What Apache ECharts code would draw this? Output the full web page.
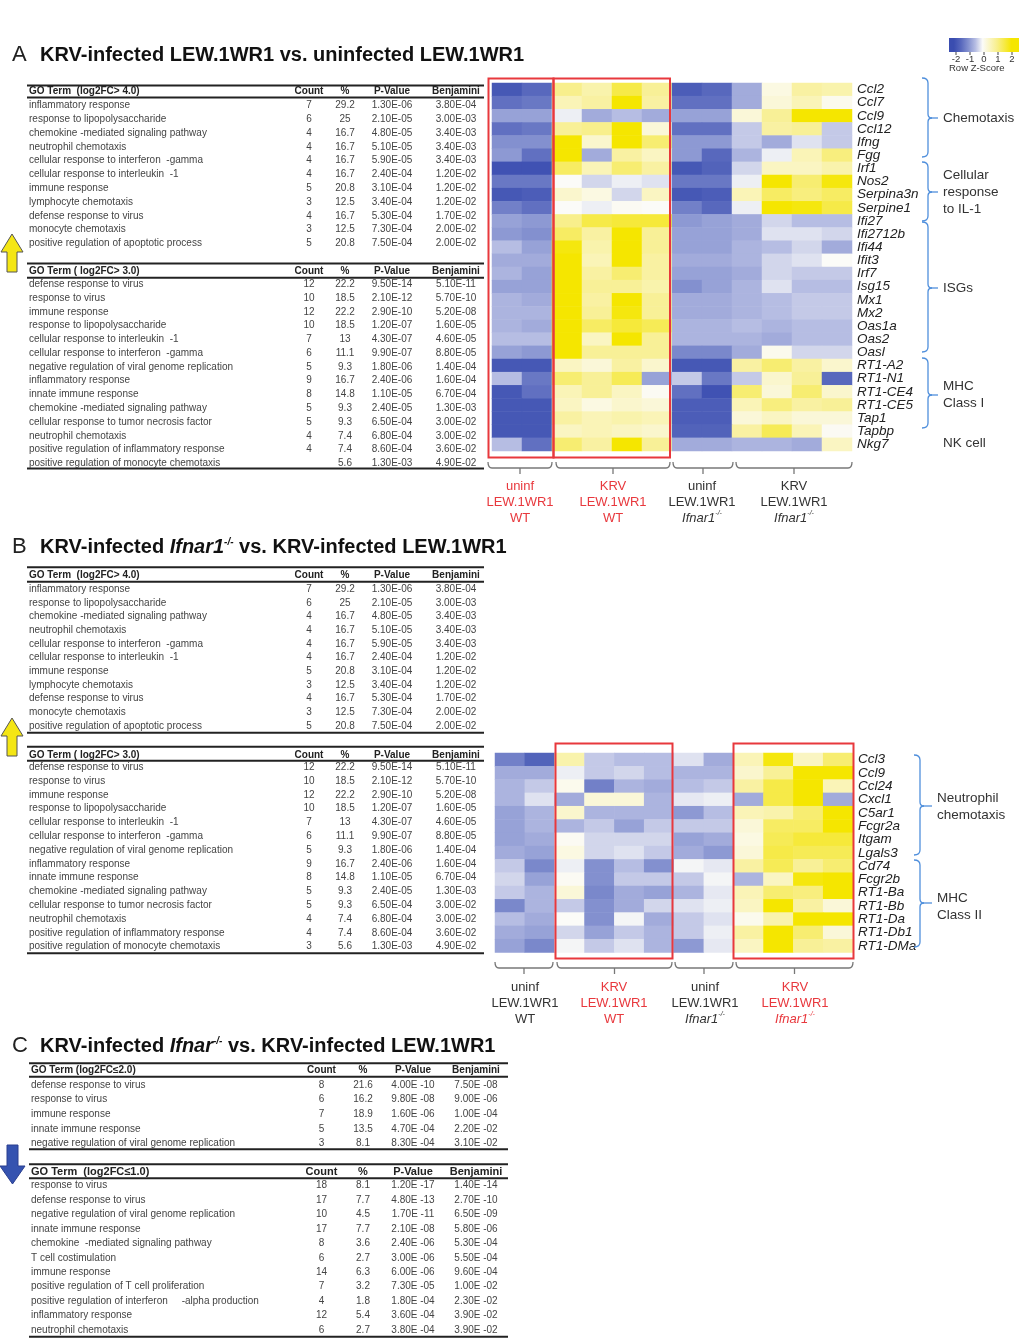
<!DOCTYPE html>
<html>
<head>
<meta charset="utf-8">
<script src="https://cdn.jsdelivr.net/npm/echarts@6/dist/echarts.min.js"></script>
<style>
  html, body { margin: 0; padding: 0; background: #ffffff; }
  #chart { width: 1019px; height: 1339px; }
</style>
</head>
<body>
<div id="chart"></div>
<script>
// ---- samples (columns of both heatmaps) ----
const sampleCols = ['WT-U1', 'WT-U2', 'WT-K1', 'WT-K2', 'WT-K3', 'WT-K4',
                    'KO-U1', 'KO-U2', 'KO-K1', 'KO-K2', 'KO-K3', 'KO-K4'];

// ---- heatmap A: row z-scores ----
const genesA = ['Ccl2', 'Ccl7', 'Ccl9', 'Ccl12', 'Ifng', 'Fgg', 'Irf1', 'Nos2', 'Serpina3n', 'Serpine1',
  'Ifi27', 'Ifi2712b', 'Ifi44', 'Ifit3', 'Irf7', 'Isg15', 'Mx1', 'Mx2', 'Oas1a', 'Oas2', 'Oasl',
  'RT1-A2', 'RT1-N1', 'RT1-CE4', 'RT1-CE5', 'Tap1', 'Tapbp', 'Nkg7'];
const zA = [
  [-1.8, -1.5, 1.0, 0.7, 1.5, 0.9, -1.7, -1.5, -0.7, 0.2, 0.8, 0.7],
  [-1.4, -1.3, 0.6, 0.8, 2.0, 0.8, -1.4, -1.4, -0.7, 0.3, 0.6, 0.1],
  [-0.8, -0.8, -0.1, -0.7, -0.5, -0.7, -0.8, -0.8, 0.3, 0.9, 2.0, 2.0],
  [-1.4, -1.3, 0.9, 1.0, 2.0, 0.3, -1.4, -1.4, -0.4, 0.8, 0.9, -0.4],
  [-1.0, -1.0, 2.0, 0.4, 2.0, 1.2, -0.9, -0.9, -0.4, -0.7, -0.2, -0.4],
  [-0.9, -1.4, 2.0, -0.7, 0.8, 0.5, -0.9, -1.5, -0.6, -0.1, 0.6, 1.1],
  [-1.9, -1.9, 1.3, 0.6, 1.2, 0.8, -1.8, -1.6, -0.3, 0.5, 0.5, 0.7],
  [-1.3, -1.3, 0.0, -0.3, -0.1, -0.2, -1.3, -1.3, -0.1, 2.0, 1.2, 1.9],
  [-1.8, -1.7, 0.4, 0.2, -0.3, 0.5, -1.8, -1.7, 0.6, 1.3, 1.1, 1.3],
  [-1.2, -1.4, 0.0, -0.1, 0.05, 0.0, -1.2, -1.5, -0.1, 2.0, 1.9, 1.5],
  [-0.8, -0.9, 1.0, 1.5, 1.6, 1.6, -0.9, -0.8, -0.7, -0.3, -0.5, -0.5],
  [-0.9, -1.0, 1.3, 0.8, 2.0, 0.9, -0.8, -0.8, -0.7, -0.2, -0.2, -0.3],
  [-0.5, -0.8, 1.9, 0.7, 2.0, 0.9, -0.8, -0.8, -0.6, -0.5, -0.3, -0.7],
  [-0.7, -0.7, 2.0, 0.6, 2.0, 0.8, -0.7, -0.7, -0.6, -0.3, -0.2, 0.0],
  [-0.6, -0.8, 2.0, 0.8, 1.2, 0.8, -0.8, -0.8, -0.7, -0.3, -0.4, -0.4],
  [-0.8, -0.8, 2.0, 0.9, 0.9, 0.7, -1.0, -0.8, -0.6, -0.2, -0.5, -0.5],
  [-0.6, -0.7, 2.0, 0.8, 2.0, 0.9, -0.7, -0.7, -0.6, -0.5, -0.4, -0.4],
  [-0.6, -0.6, 2.0, 0.9, 1.9, 0.9, -0.7, -0.7, -0.6, -0.5, -0.4, -0.4],
  [-0.6, -0.7, 2.0, 1.3, 1.6, 1.4, -0.6, -0.6, -0.5, -0.6, -0.5, -0.5],
  [-0.5, -0.5, 2.0, 0.5, 2.0, 0.9, -0.6, -0.6, -0.6, -0.7, -0.5, -0.5],
  [-0.8, -0.9, 2.0, 0.9, 0.9, 0.9, -1.1, -1.1, -0.7, 0.1, -0.3, -0.3],
  [-1.8, -1.8, 0.5, 0.3, 0.8, 0.4, -1.8, -1.8, 0.8, 1.2, 0.8, 0.4],
  [-0.5, -1.3, 1.2, 0.9, 1.4, -0.8, -0.4, -1.3, -0.4, 0.4, 0.9, -1.5],
  [-1.8, -1.4, 0.6, 0.9, 0.5, 0.05, -1.4, -1.9, 1.2, 0.3, 1.2, 0.4],
  [-1.8, -1.8, 0.5, 0.2, 0.4, 0.3, -1.7, -1.7, 0.6, 1.1, 0.8, 0.9],
  [-1.8, -1.8, 0.8, 0.6, 0.7, 0.6, -1.7, -1.7, 0.3, 0.5, 0.3, 0.3],
  [-1.8, -1.8, 0.5, 0.6, 0.5, 0.4, -1.6, -1.6, 0.8, 1.4, 0.6, 0.05],
  [-0.5, -1.4, 1.2, 0.8, 2.0, 0.9, -0.7, -0.7, -0.6, -0.6, -0.7, 0.5]
];

// ---- heatmap B: row z-scores ----
const genesB = ['Ccl3', 'Ccl9', 'Ccl24', 'Cxcl1', 'C5ar1', 'Fcgr2a', 'Itgam', 'Lgals3', 'Cd74', 'Fcgr2b',
  'RT1-Ba', 'RT1-Bb', 'RT1-Da', 'RT1-Db1', 'RT1-DMa'];
const zB = [
  [-1.2, -1.6, 0.7, -0.4, -0.5, -0.5, -0.2, -0.7, 0.6, 1.9, 0.5, 1.2],
  [-0.7, -0.7, -0.1, -0.4, -0.3, -0.5, -0.6, -0.6, 0.4, 0.9, 2.0, 2.0],
  [-0.6, -0.4, 0.1, -1.2, -0.6, -0.7, -0.5, -0.4, 0.8, 1.5, 2.0, 0.6],
  [-0.6, -0.2, -0.7, 0.3, 0.3, -0.6, -0.15, -0.1, -0.7, 1.5, 2.0, -0.7],
  [-0.8, -0.6, 0.4, -0.6, -0.6, -0.6, -0.9, -0.5, 0.6, 0.7, 1.2, 2.0],
  [-0.8, -0.6, -0.6, -0.4, -0.8, -0.4, -0.4, -0.4, 0.3, 1.3, 1.3, 2.0],
  [-0.8, -0.7, 0.05, -0.3, -0.3, -0.3, -0.8, -0.7, 0.2, 1.4, 1.6, 1.6],
  [-0.7, -0.8, 0.2, -0.3, -0.2, -0.4, -0.7, -0.9, 0.3, 1.5, 1.4, 1.4],
  [-0.4, -1.1, -0.1, -1.0, -0.5, -1.0, -0.05, -0.15, 0.8, 1.4, 0.9, 1.2],
  [-0.3, -0.8, 0.05, -1.0, -0.4, -0.4, -0.4, -0.05, -0.6, 0.5, 1.9, 2.0],
  [-0.4, -0.6, 0.3, -1.1, -0.7, -0.8, -0.6, -0.15, 0.6, 1.2, 1.1, 2.0],
  [-1.1, -0.6, -0.4, -1.0, -0.7, -0.3, -0.2, -0.1, 0.5, 2.0, 0.8, 0.3],
  [-0.5, -0.7, 0.0, -1.0, -0.05, -0.7, -0.4, -0.2, 0.1, 0.7, 2.0, 2.0],
  [-0.7, -0.8, -0.3, -0.8, -0.4, -0.6, -0.4, -0.1, 0.8, 2.0, 1.2, 0.3],
  [-0.8, -1.1, -0.05, -0.4, -0.2, -0.6, -0.9, -0.15, 0.5, 2.0, 0.9, 0.8]
];

// ---- GO term tables: [term, count, %, P-value, Benjamini] ----
const goUpA4 = [
  ['inflammatory response', '7', '29.2', '1.30E-06', '3.80E-04'],
  ['response to lipopolysaccharide', '6', '25', '2.10E-05', '3.00E-03'],
  ['chemokine -mediated signaling pathway', '4', '16.7', '4.80E-05', '3.40E-03'],
  ['neutrophil chemotaxis', '4', '16.7', '5.10E-05', '3.40E-03'],
  ['cellular response to interferon  -gamma', '4', '16.7', '5.90E-05', '3.40E-03'],
  ['cellular response to interleukin  -1', '4', '16.7', '2.40E-04', '1.20E-02'],
  ['immune response', '5', '20.8', '3.10E-04', '1.20E-02'],
  ['lymphocyte chemotaxis', '3', '12.5', '3.40E-04', '1.20E-02'],
  ['defense response to virus', '4', '16.7', '5.30E-04', '1.70E-02'],
  ['monocyte chemotaxis', '3', '12.5', '7.30E-04', '2.00E-02'],
  ['positive regulation of apoptotic process', '5', '20.8', '7.50E-04', '2.00E-02']
];
const goUpA3 = [
  ['defense response to virus', '12', '22.2', '9.50E-14', '5.10E-11'],
  ['response to virus', '10', '18.5', '2.10E-12', '5.70E-10'],
  ['immune response', '12', '22.2', '2.90E-10', '5.20E-08'],
  ['response to lipopolysaccharide', '10', '18.5', '1.20E-07', '1.60E-05'],
  ['cellular response to interleukin  -1', '7', '13', '4.30E-07', '4.60E-05'],
  ['cellular response to interferon  -gamma', '6', '11.1', '9.90E-07', '8.80E-05'],
  ['negative regulation of viral genome replication', '5', '9.3', '1.80E-06', '1.40E-04'],
  ['inflammatory response', '9', '16.7', '2.40E-06', '1.60E-04'],
  ['innate immune response', '8', '14.8', '1.10E-05', '6.70E-04'],
  ['chemokine -mediated signaling pathway', '5', '9.3', '2.40E-05', '1.30E-03'],
  ['cellular response to tumor necrosis factor', '5', '9.3', '6.50E-04', '3.00E-02'],
  ['neutrophil chemotaxis', '4', '7.4', '6.80E-04', '3.00E-02'],
  ['positive regulation of inflammatory response', '4', '7.4', '8.60E-04', '3.60E-02'],
  ['positive regulation of monocyte chemotaxis', '', '5.6', '1.30E-03', '4.90E-02']
];
const goUpB4 = [
  ['inflammatory response', '7', '29.2', '1.30E-06', '3.80E-04'],
  ['response to lipopolysaccharide', '6', '25', '2.10E-05', '3.00E-03'],
  ['chemokine -mediated signaling pathway', '4', '16.7', '4.80E-05', '3.40E-03'],
  ['neutrophil chemotaxis', '4', '16.7', '5.10E-05', '3.40E-03'],
  ['cellular response to interferon  -gamma', '4', '16.7', '5.90E-05', '3.40E-03'],
  ['cellular response to interleukin  -1', '4', '16.7', '2.40E-04', '1.20E-02'],
  ['immune response', '5', '20.8', '3.10E-04', '1.20E-02'],
  ['lymphocyte chemotaxis', '3', '12.5', '3.40E-04', '1.20E-02'],
  ['defense response to virus', '4', '16.7', '5.30E-04', '1.70E-02'],
  ['monocyte chemotaxis', '3', '12.5', '7.30E-04', '2.00E-02'],
  ['positive regulation of apoptotic process', '5', '20.8', '7.50E-04', '2.00E-02']
];
const goUpB3 = [
  ['defense response to virus', '12', '22.2', '9.50E-14', '5.10E-11'],
  ['response to virus', '10', '18.5', '2.10E-12', '5.70E-10'],
  ['immune response', '12', '22.2', '2.90E-10', '5.20E-08'],
  ['response to lipopolysaccharide', '10', '18.5', '1.20E-07', '1.60E-05'],
  ['cellular response to interleukin  -1', '7', '13', '4.30E-07', '4.60E-05'],
  ['cellular response to interferon  -gamma', '6', '11.1', '9.90E-07', '8.80E-05'],
  ['negative regulation of viral genome replication', '5', '9.3', '1.80E-06', '1.40E-04'],
  ['inflammatory response', '9', '16.7', '2.40E-06', '1.60E-04'],
  ['innate immune response', '8', '14.8', '1.10E-05', '6.70E-04'],
  ['chemokine -mediated signaling pathway', '5', '9.3', '2.40E-05', '1.30E-03'],
  ['cellular response to tumor necrosis factor', '5', '9.3', '6.50E-04', '3.00E-02'],
  ['neutrophil chemotaxis', '4', '7.4', '6.80E-04', '3.00E-02'],
  ['positive regulation of inflammatory response', '4', '7.4', '8.60E-04', '3.60E-02'],
  ['positive regulation of monocyte chemotaxis', '3', '5.6', '1.30E-03', '4.90E-02']
];
const goDownC2 = [
  ['defense response to virus', '8', '21.6', '4.00E -10', '7.50E -08'],
  ['response to virus', '6', '16.2', '9.80E -08', '9.00E -06'],
  ['immune response', '7', '18.9', '1.60E -06', '1.00E -04'],
  ['innate immune response', '5', '13.5', '4.70E -04', '2.20E -02'],
  ['negative regulation of viral genome replication', '3', '8.1', '8.30E -04', '3.10E -02']
];
const goDownC1 = [
  ['response to virus', '18', '8.1', '1.20E -17', '1.40E -14'],
  ['defense response to virus', '17', '7.7', '4.80E -13', '2.70E -10'],
  ['negative regulation of viral genome replication', '10', '4.5', '1.70E -11', '6.50E -09'],
  ['innate immune response', '17', '7.7', '2.10E -08', '5.80E -06'],
  ['chemokine  -mediated signaling pathway', '8', '3.6', '2.40E -06', '5.30E -04'],
  ['T cell costimulation', '6', '2.7', '3.00E -06', '5.50E -04'],
  ['immune response', '14', '6.3', '6.00E -06', '9.60E -04'],
  ['positive regulation of T cell proliferation', '7', '3.2', '7.30E -05', '1.00E -02'],
  ['positive regulation of interferon     -alpha production', '4', '1.8', '1.80E -04', '2.30E -02'],
  ['inflammatory response', '12', '5.4', '3.60E -04', '3.90E -02'],
  ['neutrophil chemotaxis', '6', '2.7', '3.80E -04', '3.90E -02']
];
const colHeads = ['Count', '%', 'P-Value', 'Benjamini'];
const zTicks = ['-2', '-1', '0', '1', '2'];

// ---- drawing helpers ----
const FF = "'Liberation Sans', Arial, Helvetica, sans-serif";
const RED = '#e8383d';
const BRACE = '#4f8fdc';
const HEAT = ['#3a4db0', '#5868bd', '#8390cf', '#b6bde3', '#fbfbf8', '#faf5c2', '#f8ef8c', '#f6ea48', '#f5e600'];
const g = [];

function txt(s, x, y, o) {
  o = o || {};
  const st = {
    text: s, x: 0, y: 0,
    font: (o.style || 'normal') + ' ' + (o.weight || 'normal') + ' ' + (o.size || 10) + 'px ' + FF,
    fill: o.color || '#333',
    align: o.align || 'left', textAlign: o.align || 'left',
    verticalAlign: 'middle', textVerticalAlign: 'middle'
  };
  if (o.rich) st.rich = o.rich;
  if (o.lineHeight) st.lineHeight = o.lineHeight;
  g.push({ type: 'text', x: x, y: y, silent: true, style: st, z: 10 });
}
function ln(x1, y1, x2, y2, w, c) {
  g.push({ type: 'line', silent: true, shape: { x1: x1, y1: y1, x2: x2, y2: y2 },
    style: { stroke: c || '#222', lineWidth: w || 1 }, z: 5 });
}
function qc(x1, y1, cx, cy, x2, y2, c, w) {
  g.push({ type: 'bezierCurve', silent: true,
    shape: { x1: x1, y1: y1, cpx1: cx, cpy1: cy, x2: x2, y2: y2 },
    style: { stroke: c, lineWidth: w || 1.3, fill: null }, z: 5 });
}
function box(x, y, w, h) {
  g.push({ type: 'rect', silent: true, shape: { x: x, y: y, width: w, height: h },
    style: { stroke: RED, lineWidth: 2, fill: null }, z: 20 });
}
// right-facing curly brace with a short lead line from its tip
function brace(x, y0, y1, ym, lead) {
  const c = BRACE;
  qc(x - 6, y0, x, y0, x, y0 + 5, c);
  ln(x, y0 + 5, x, ym - 4, 1.3, c);
  qc(x, ym - 4, x, ym, x + 4, ym, c);
  qc(x + 4, ym, x, ym, x, ym + 4, c);
  ln(x, ym + 4, x, y1 - 5, 1.3, c);
  qc(x, y1 - 5, x, y1, x - 6, y1, c);
  ln(x + 4, ym, x + 4 + lead, ym, 1.3, c);
}
// downward group bracket under the heatmap columns
function groupBracket(x0, x1, y) {
  const c = '#777', xm = (x0 + x1) / 2;
  qc(x0, y - 6, x0, y, x0 + 4, y, c);
  ln(x0 + 4, y, x1 - 4, y, 1.3, c);
  qc(x1 - 4, y, x1, y, x1, y - 6, c);
  ln(xm, y, xm, y + 6, 1.3, c);
}
function table(rows, header, s) {
  ln(s.left, s.top, s.right, s.top, 2);
  txt(header, s.left + 2, s.headY, { weight: 'bold', size: s.headSize || 10, color: '#222' });
  colHeads.forEach((h, i) => txt(h, s.cols[i], s.headY, { weight: 'bold', size: s.headSize || 10, color: '#222', align: 'center' }));
  ln(s.left, s.ruleY, s.right, s.ruleY, 2);
  rows.forEach((r, i) => {
    const y = s.rowY0 + i * s.step;
    txt(r[0], s.left + 2, y, { color: '#444' });
    for (let k = 1; k < 5; k++) txt(r[k], s.cols[k - 1], y, { color: '#444', align: 'center' });
  });
  if (s.bottom) ln(s.left, s.bottom, s.right, s.bottom, 2);
}
function arrow(pts, fill, stroke) {
  g.push({ type: 'polygon', silent: true, shape: { points: pts },
    style: { fill: fill, stroke: stroke, lineWidth: 1 }, z: 5 });
}

// ---- panel titles ----
const titleRich = {
  b: { fontFamily: FF, fontWeight: 'bold', fontSize: 20, fill: '#111' },
  i: { fontFamily: FF, fontWeight: 'bold', fontStyle: 'italic', fontSize: 20, fill: '#111' },
  s: { fontFamily: FF, fontWeight: 'bold', fontStyle: 'italic', fontSize: 10, fill: '#111', verticalAlign: 'top', lineHeight: 14 }
};
txt('A', 12, 55, { size: 22, color: '#222' });
txt('{b|KRV-infected LEW.1WR1 vs. uninfected LEW.1WR1}', 40, 55, { rich: titleRich });
txt('B', 12, 547, { size: 22, color: '#222' });
txt('{b|KRV-infected }{i|Ifnar1}{s|-/-}{b| vs. KRV-infected LEW.1WR1}', 40, 547, { rich: titleRich });
txt('C', 12, 1046, { size: 22, color: '#222' });
txt('{b|KRV-infected }{i|Ifnar}{s|-/-}{b| vs. KRV-infected LEW.1WR1}', 40, 1046, { rich: titleRich });

// ---- tables ----
const colsAB = [309, 345, 392, 456];
table(goUpA4, 'GO Term  (log2FC> 4.0)', { left: 27, right: 484, cols: colsAB, top: 85.5, headY: 91.7, ruleY: 97.5, rowY0: 105.7, step: 13.76 });
table(goUpA3, 'GO Term ( log2FC> 3.0)', { left: 27, right: 484, cols: colsAB, top: 263.5, headY: 271, ruleY: 277.7, rowY0: 284.3, step: 13.77, bottom: 468.5 });
table(goUpB4, 'GO Term  (log2FC> 4.0)', { left: 27, right: 484, cols: colsAB, top: 567.3, headY: 575, ruleY: 581.7, rowY0: 589.3, step: 13.67, bottom: 732.7 });
table(goUpB3, 'GO Term ( log2FC> 3.0)', { left: 27, right: 484, cols: colsAB, top: 746.7, headY: 755, ruleY: 760.7, rowY0: 767.3, step: 13.8, bottom: 953.3 });
const colsC = [321.5, 363, 413, 476];
table(goDownC2, 'GO Term (log2FC\u22642.0)', { left: 29, right: 508, cols: colsC, top: 1063.3, headY: 1070.7, ruleY: 1076.7, rowY0: 1085, step: 14.6, bottom: 1149.3 });
table(goDownC1, 'GO Term  (log2FC\u22641.0)', { left: 29, right: 508, cols: colsC, top: 1164.3, headY: 1171.7, ruleY: 1178.3, rowY0: 1185.7, step: 14.43, bottom: 1336.7, headSize: 11 });

// ---- direction arrows ----
function upArrow(top) {
  arrow([[12, top], [23, top + 18], [17, top + 18], [17, top + 38], [7, top + 38], [7, top + 18], [1, top + 18]], '#f4e614', '#555');
}
upArrow(234);
upArrow(718);
arrow([[7, 1145], [18, 1145], [18, 1166], [25, 1166], [12.5, 1184], [0, 1166], [7, 1166]], '#3553b0', '#2a3f8f');

// ---- red highlight boxes ----
box(488.5, 78.5, 65, 379);
box(553.5, 78.5, 116.5, 379);
box(555.5, 743.5, 117, 215);
box(733.5, 743.5, 120, 215);

// ---- group brackets and labels ----
const labRich = {
  n: { fontFamily: FF, fontSize: 13, lineHeight: 16 },
  i: { fontFamily: FF, fontSize: 13, fontStyle: 'italic', lineHeight: 16 },
  s: { fontFamily: FF, fontSize: 7, fontStyle: 'italic', verticalAlign: 'top', lineHeight: 16 }
};
function groupLabels(xs, y, heads, thirds, colors) {
  xs.forEach((x, i) => {
    const rich = JSON.parse(JSON.stringify(labRich));
    Object.keys(rich).forEach(k => rich[k].fill = colors[i]);
    const last = thirds[i] === 'WT' ? '{n|WT}' : '{i|Ifnar1}{s|-/-}';
    txt('{n|' + heads[i] + '}\n{n|LEW.1WR1}\n' + last, x, y, { rich: rich, align: 'center', lineHeight: 16 });
  });
}
groupBracket(488, 552, 468);
groupBracket(556, 670, 468);
groupBracket(673, 733, 468);
groupBracket(736, 852, 468);
groupLabels([520, 613, 702, 794], 502, ['uninf', 'KRV', 'uninf', 'KRV'], ['WT', 'WT', 'KO', 'KO'], [RED, RED, '#333', '#333']);
groupBracket(495, 553, 968);
groupBracket(557, 672, 968);
groupBracket(675, 733, 968);
groupBracket(736, 853, 968);
groupLabels([525, 614, 705, 795], 1003, ['uninf', 'KRV', 'uninf', 'KRV'], ['WT', 'WT', 'KO', 'KO'], ['#333', RED, '#333', RED]);

// ---- gene-set braces ----
const ann = { size: 13.5, color: '#333' };
brace(928, 78, 157, 118, 6);   txt('Chemotaxis', 943, 118, ann);
brace(928, 162, 221, 192, 6);  txt('Cellular\nresponse\nto IL-1', 943, 192, Object.assign({ lineHeight: 17 }, ann));
brace(928, 222, 352, 288, 6);  txt('ISGs', 943, 288, ann);
brace(928, 358, 428, 395, 6);  txt('MHC\nClass I', 943, 395, Object.assign({ lineHeight: 17 }, ann));
txt('NK cell', 943, 443, ann);
brace(920, 755, 855, 806, 8);  txt('Neutrophil\nchemotaxis', 937, 807, Object.assign({ lineHeight: 17 }, ann));
brace(920, 860, 947, 903, 8);  txt('MHC\nClass II', 937, 907, Object.assign({ lineHeight: 17 }, ann));

// ---- colour key ----
g.push({ type: 'rect', silent: true, shape: { x: 949, y: 38, width: 80, height: 14 },
  style: { fill: { type: 'linear', x: 0, y: 0, x2: 1, y2: 0,
    colorStops: HEAT.map((c, i) => ({ offset: 0.06 + i * 0.09, color: c })) } }, z: 5 });
zTicks.forEach((t, i) => {
  const x = 956 + i * 14;
  ln(x, 52, x, 55, 1, '#444');
  txt(t, x, 59.5, { size: 9.5, color: '#333', align: 'center' });
});
txt('Row Z-Score', 949, 68.5, { size: 9.5, color: '#333' });

// ---- heatmap series data ----
function cells(z) {
  const out = [];
  z.forEach((row, r) => row.forEach((v, c) => out.push([c, r, v])));
  return out;
}

const geneAxis = (gi, genes) => ({
  type: 'category', gridIndex: gi, data: genes, inverse: true, position: 'right',
  axisLine: { show: false }, axisTick: { show: false }, splitLine: { show: false },
  axisLabel: { show: true, interval: 0, hideOverlap: false, margin: 5, fontFamily: FF,
    fontStyle: 'italic', fontSize: 13.5, color: '#222' }
});
const sampleAxis = gi => ({
  type: 'category', gridIndex: gi, data: sampleCols,
  axisLine: { show: false }, axisTick: { show: false }, axisLabel: { show: false }, splitLine: { show: false }
});

const chart = echarts.init(document.getElementById('chart'), null, { renderer: 'canvas' });
chart.setOption({
  animation: false,
  backgroundColor: '#ffffff',
  grid: [
    { left: 492, top: 83, width: 360, height: 368 },
    { left: 495, top: 753, width: 358, height: 199.5 }
  ],
  xAxis: [sampleAxis(0), sampleAxis(1)],
  yAxis: [geneAxis(0, genesA), geneAxis(1, genesB)],
  visualMap: {
    show: false, type: 'continuous', min: -2, max: 2, seriesIndex: [0, 1],
    inRange: { color: HEAT }
  },
  series: [
    { type: 'heatmap', xAxisIndex: 0, yAxisIndex: 0, data: cells(zA), emphasis: { disabled: true }, silent: true },
    { type: 'heatmap', xAxisIndex: 1, yAxisIndex: 1, data: cells(zB), emphasis: { disabled: true }, silent: true }
  ],
  graphic: g
});
</script>
</body>
</html>
